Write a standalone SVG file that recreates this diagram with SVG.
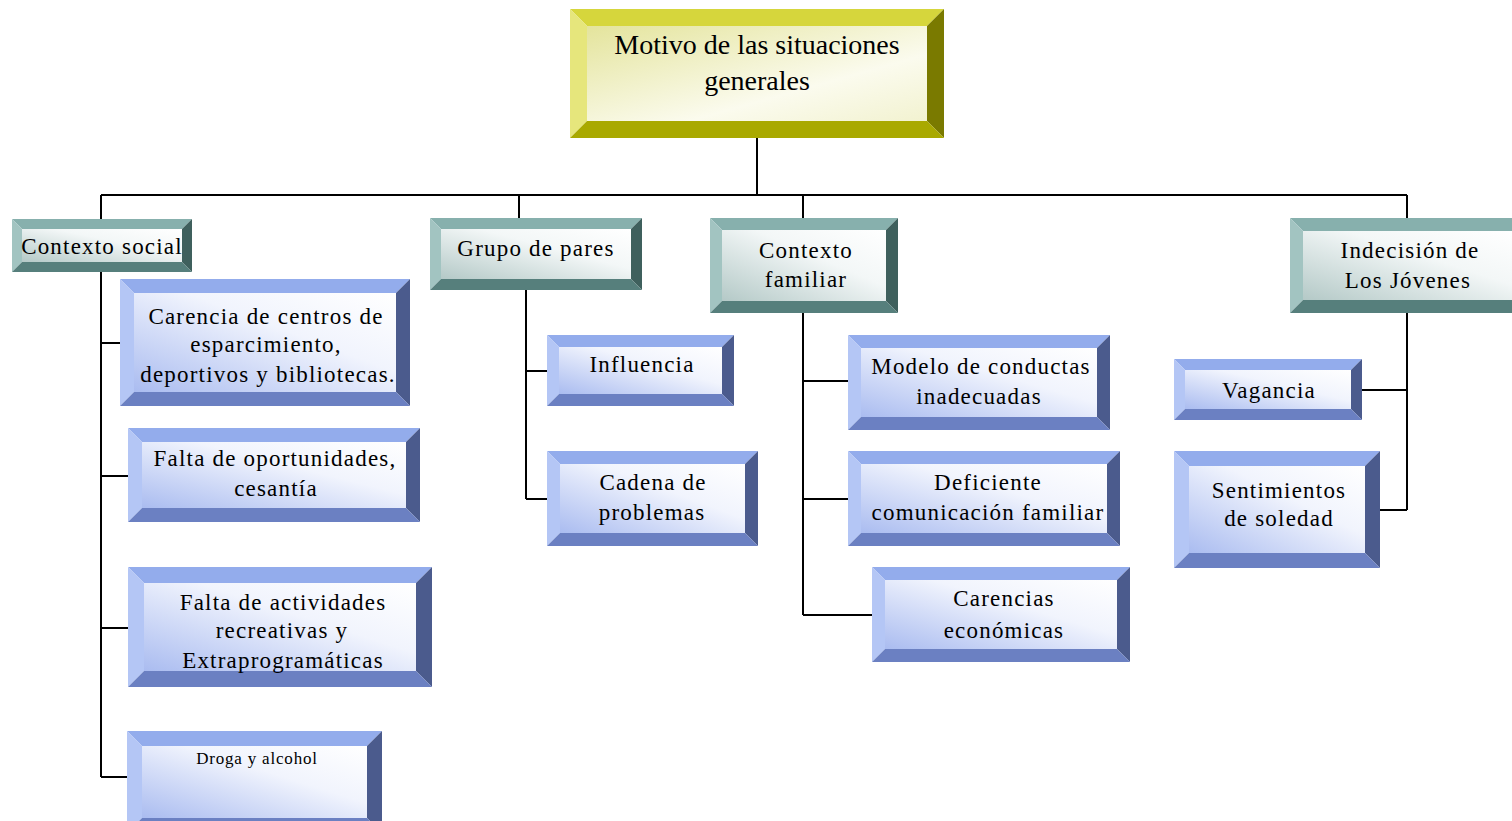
<svg xmlns="http://www.w3.org/2000/svg" width="1512" height="821" viewBox="0 0 1512 821">
<defs>
<linearGradient id="gy" x1="0" y1="0" x2="1" y2="1"><stop offset="0" stop-color="#e4e49c"/><stop offset="0.65" stop-color="#fbfbee"/><stop offset="1" stop-color="#f2f2d0"/></linearGradient>
<linearGradient id="gt" x1="0" y1="1" x2="1" y2="0"><stop offset="0" stop-color="#b4c9c7"/><stop offset="0.6" stop-color="#f3f7f7"/><stop offset="1" stop-color="#ffffff"/></linearGradient>
<linearGradient id="gb" x1="0" y1="1" x2="1" y2="0"><stop offset="0" stop-color="#aabcf0"/><stop offset="0.6" stop-color="#f1f4fd"/><stop offset="1" stop-color="#ffffff"/></linearGradient>
</defs>
<style>
.yt{fill:#d6d63c}.yl{fill:#e6e67c}.yr{fill:#7a7a00}.yb{fill:#a9a900}.yf{fill:url(#gy)}
.tt{fill:#87b0ad}.tl{fill:#a2c4c1}.tr{fill:#3f605d}.tb{fill:#567f7c}.tf{fill:url(#gt)}
.bt{fill:#93acec}.bl{fill:#b4c6f5}.br{fill:#4b5b8d}.bb{fill:#6b80c2}.bf{fill:url(#gb)}
text{font-family:"Liberation Serif","Times New Roman",serif;fill:#000;text-anchor:middle}
.t1{font-size:28px}
.t2{font-size:23px;letter-spacing:1.2px}
.t3{font-size:17px;letter-spacing:0.8px}
.c{fill:none;stroke:#000;stroke-width:2}
</style>
<g id="connectors">
<path class="c" d="M757,138V195M101,195H1407M101,195V219M519,195V218M803,195V218M1407,195V218"/>
<path class="c" d="M101,272V777M101,343H120M101,476H128M101,628H128M101,777H127"/>
<path class="c" d="M526,290V499M526,371H547M526,499H547"/>
<path class="c" d="M803,313V615M803,381H848M803,499H848M803,615H872"/>
<path class="c" d="M1407,313V510M1407,390H1362M1407,510H1380"/>
</g>
<g id="title">
<polygon class="yt" points="570,9 944,9 927,26 587,26"/>
<polygon class="yl" points="570,9 587,26 587,121 570,138"/>
<polygon class="yr" points="944,9 944,138 927,121 927,26"/>
<polygon class="yb" points="570,138 944,138 927,121 587,121"/>
<rect class="yf" x="587" y="26" width="340" height="95"/>
<text class="t1" x="757" y="54">Motivo de las situaciones</text>
<text class="t1" x="757" y="90">generales</text>
</g>
<g id="contexto-social">
<polygon class="tt" points="12,219 192,219 182,229 22,229"/>
<polygon class="tl" points="12,219 22,229 22,262 12,272"/>
<polygon class="tr" points="192,219 192,272 182,262 182,229"/>
<polygon class="tb" points="12,272 192,272 182,262 22,262"/>
<rect class="tf" x="22" y="229" width="160" height="33"/>
<text class="t2" x="102" y="254">Contexto social</text>
</g>
<g id="grupo-de-pares">
<polygon class="tt" points="430,218 642,218 631,229 441,229"/>
<polygon class="tl" points="430,218 441,229 441,279 430,290"/>
<polygon class="tr" points="642,218 642,290 631,279 631,229"/>
<polygon class="tb" points="430,290 642,290 631,279 441,279"/>
<rect class="tf" x="441" y="229" width="190" height="50"/>
<text class="t2" x="536" y="256">Grupo de pares</text>
</g>
<g id="contexto-familiar">
<polygon class="tt" points="710,218 898,218 886,230 722,230"/>
<polygon class="tl" points="710,218 722,230 722,301 710,313"/>
<polygon class="tr" points="898,218 898,313 886,301 886,230"/>
<polygon class="tb" points="710,313 898,313 886,301 722,301"/>
<rect class="tf" x="722" y="230" width="164" height="71"/>
<text class="t2" x="806" y="258">Contexto</text>
<text class="t2" x="806" y="287">familiar</text>
</g>
<g id="indecision">
<polygon class="tt" points="1290,218 1530,218 1517,231 1303,231"/>
<polygon class="tl" points="1290,218 1303,231 1303,300 1290,313"/>
<polygon class="tr" points="1530,218 1530,313 1517,300 1517,231"/>
<polygon class="tb" points="1290,313 1530,313 1517,300 1303,300"/>
<rect class="tf" x="1303" y="231" width="214" height="69"/>
<text class="t2" x="1410" y="258">Indecisión de</text>
<text class="t2" x="1408" y="288">Los Jóvenes</text>
</g>
<g id="carencia-centros">
<polygon class="bt" points="120,279 410,279 396,293 134,293"/>
<polygon class="bl" points="120,279 134,293 134,392 120,406"/>
<polygon class="br" points="410,279 410,406 396,392 396,293"/>
<polygon class="bb" points="120,406 410,406 396,392 134,392"/>
<rect class="bf" x="134" y="293" width="262" height="99"/>
<text class="t2" x="266" y="324">Carencia de centros de</text>
<text class="t2" x="266" y="352">esparcimiento,</text>
<text class="t2" x="268" y="382">deportivos y bibliotecas.</text>
</g>
<g id="falta-oportunidades">
<polygon class="bt" points="128,428 420,428 406,442 142,442"/>
<polygon class="bl" points="128,428 142,442 142,508 128,522"/>
<polygon class="br" points="420,428 420,522 406,508 406,442"/>
<polygon class="bb" points="128,522 420,522 406,508 142,508"/>
<rect class="bf" x="142" y="442" width="264" height="66"/>
<text class="t2" x="275" y="466">Falta de oportunidades,</text>
<text class="t2" x="276" y="496">cesantía</text>
</g>
<g id="falta-actividades">
<polygon class="bt" points="128,567 432,567 416,583 144,583"/>
<polygon class="bl" points="128,567 144,583 144,671 128,687"/>
<polygon class="br" points="432,567 432,687 416,671 416,583"/>
<polygon class="bb" points="128,687 432,687 416,671 144,671"/>
<rect class="bf" x="144" y="583" width="272" height="88"/>
<text class="t2" x="283" y="610">Falta de actividades</text>
<text class="t2" x="282" y="638">recreativas y</text>
<text class="t2" x="283" y="668">Extraprogramáticas</text>
</g>
<g id="droga-alcohol">
<polygon class="bt" points="127,731 382,731 367,746 142,746"/>
<polygon class="bl" points="127,731 142,746 142,818 127,833"/>
<polygon class="br" points="382,731 382,833 367,818 367,746"/>
<polygon class="bb" points="127,833 382,833 367,818 142,818"/>
<rect class="bf" x="142" y="746" width="225" height="72"/>
<text class="t3" x="257" y="764">Droga y alcohol</text>
</g>
<g id="influencia">
<polygon class="bt" points="547,335 734,335 722,347 559,347"/>
<polygon class="bl" points="547,335 559,347 559,394 547,406"/>
<polygon class="br" points="734,335 734,406 722,394 722,347"/>
<polygon class="bb" points="547,406 734,406 722,394 559,394"/>
<rect class="bf" x="559" y="347" width="163" height="47"/>
<text class="t2" x="642" y="372">Influencia</text>
</g>
<g id="cadena">
<polygon class="bt" points="547,451 758,451 745,464 560,464"/>
<polygon class="bl" points="547,451 560,464 560,533 547,546"/>
<polygon class="br" points="758,451 758,546 745,533 745,464"/>
<polygon class="bb" points="547,546 758,546 745,533 560,533"/>
<rect class="bf" x="560" y="464" width="185" height="69"/>
<text class="t2" x="653" y="490">Cadena de</text>
<text class="t2" x="652" y="520">problemas</text>
</g>
<g id="modelo">
<polygon class="bt" points="848,335 1110,335 1097,348 861,348"/>
<polygon class="bl" points="848,335 861,348 861,417 848,430"/>
<polygon class="br" points="1110,335 1110,430 1097,417 1097,348"/>
<polygon class="bb" points="848,430 1110,430 1097,417 861,417"/>
<rect class="bf" x="861" y="348" width="236" height="69"/>
<text class="t2" x="981" y="374">Modelo de conductas</text>
<text class="t2" x="979" y="404">inadecuadas</text>
</g>
<g id="deficiente">
<polygon class="bt" points="848,451 1120,451 1107,464 861,464"/>
<polygon class="bl" points="848,451 861,464 861,533 848,546"/>
<polygon class="br" points="1120,451 1120,546 1107,533 1107,464"/>
<polygon class="bb" points="848,546 1120,546 1107,533 861,533"/>
<rect class="bf" x="861" y="464" width="246" height="69"/>
<text class="t2" x="988" y="490">Deficiente</text>
<text class="t2" x="988" y="520">comunicación familiar</text>
</g>
<g id="carencias-economicas">
<polygon class="bt" points="872,567 1130,567 1117,580 885,580"/>
<polygon class="bl" points="872,567 885,580 885,649 872,662"/>
<polygon class="br" points="1130,567 1130,662 1117,649 1117,580"/>
<polygon class="bb" points="872,662 1130,662 1117,649 885,649"/>
<rect class="bf" x="885" y="580" width="232" height="69"/>
<text class="t2" x="1004" y="606">Carencias</text>
<text class="t2" x="1004" y="638">económicas</text>
</g>
<g id="vagancia">
<polygon class="bt" points="1174,359 1362,359 1351,370 1185,370"/>
<polygon class="bl" points="1174,359 1185,370 1185,409 1174,420"/>
<polygon class="br" points="1362,359 1362,420 1351,409 1351,370"/>
<polygon class="bb" points="1174,420 1362,420 1351,409 1185,409"/>
<rect class="bf" x="1185" y="370" width="166" height="39"/>
<text class="t2" x="1269" y="398">Vagancia</text>
</g>
<g id="sentimientos">
<polygon class="bt" points="1174,451 1380,451 1365,466 1189,466"/>
<polygon class="bl" points="1174,451 1189,466 1189,553 1174,568"/>
<polygon class="br" points="1380,451 1380,568 1365,553 1365,466"/>
<polygon class="bb" points="1174,568 1380,568 1365,553 1189,553"/>
<rect class="bf" x="1189" y="466" width="176" height="87"/>
<text class="t2" x="1279" y="498">Sentimientos</text>
<text class="t2" x="1279" y="526">de soledad</text>
</g>
</svg>
